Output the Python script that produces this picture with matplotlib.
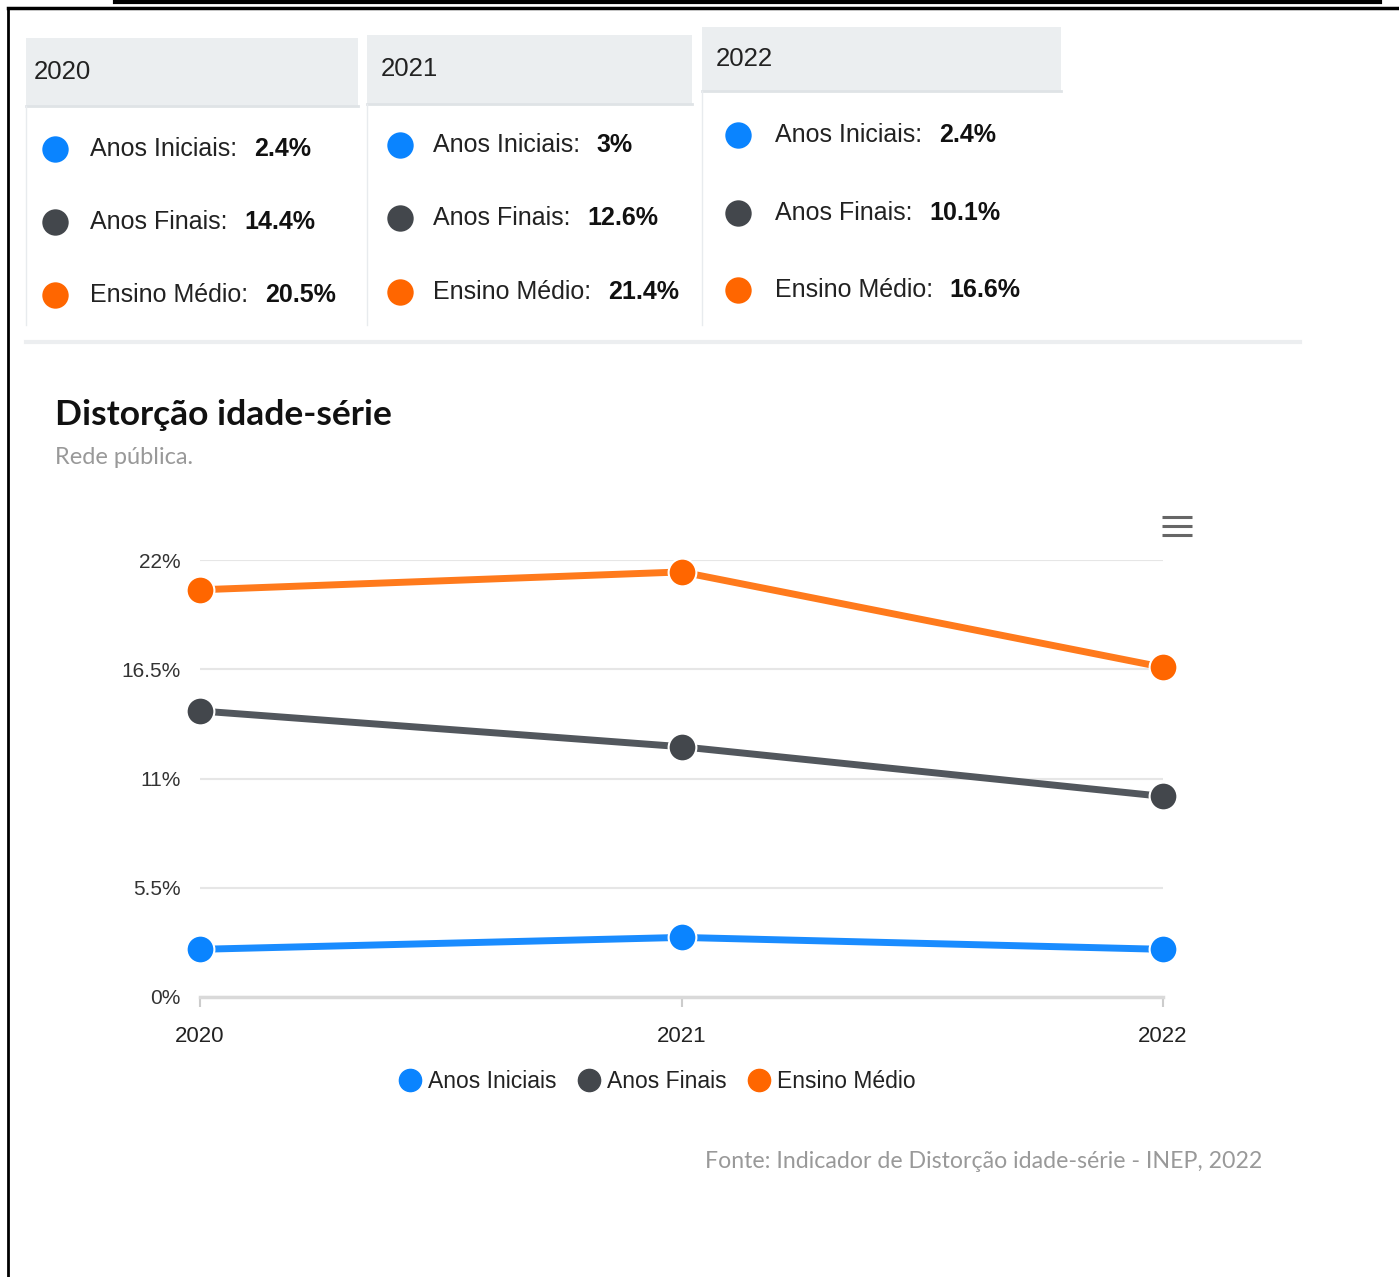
import matplotlib
matplotlib.use("Agg")
import matplotlib.pyplot as plt
from matplotlib.lines import Line2D
from matplotlib.patches import Rectangle

plt.rcParams['font.family'] = ['Liberation Sans', 'DejaVu Sans']

W, H = 1399, 1277

# data
years = [2020, 2021, 2022]
series_names = ["Anos Iniciais", "Anos Finais", "Ensino Médio"]
anos_iniciais = [2.4, 3.0, 2.4]
anos_finais = [14.4, 12.6, 10.1]
ensino_medio = [20.5, 21.4, 16.6]
y_ticks = [0, 5.5, 11, 16.5, 22]
y_tick_labels = ["0%", "5.5%", "11%", "16.5%", "22%"]

title = "Distorção idade-série"
subtitle = "Rede pública."
source = "Fonte: Indicador de Distorção idade-série - INEP, 2022"

line_colors = ["#1a8cff", "#52575d", "#ff7a1c"]
dot_colors = ["#0a84ff", "#43474c", "#ff6600"]

series = [anos_iniciais, anos_finais, ensino_medio]

fig = plt.figure(figsize=(W / 100, H / 100), dpi=100)

# background layer in pixel coords
bg = fig.add_axes([0, 0, 1, 1])
bg.set_xlim(0, W)
bg.set_ylim(H, 0)
bg.axis('off')

# outer frame (scan edges)
bg.plot([8, 8], [8, H], color='black', lw=2)
bg.plot([8, W], [8, 8], color='black', lw=2.5)
bg.plot([115, 1380], [2, 2], color='black', lw=3)

# tooltip boxes: x0, x1, header top, header bottom, body bottom, row y's, dot x, text x
boxes = [
    (26, 358, 38, 106, 325, [149, 222, 295], 55, 90),
    (367, 692, 35, 104, 325, [145, 218, 292], 400, 433),
    (702, 1061, 27, 91, 325, [135, 213, 290], 738, 775),
]
for k, (x0, x1, top, hb, bb, rows, dx, tx) in enumerate(boxes):
    bg.add_patch(Rectangle((x0, top), x1 - x0, hb - top, fc="#ebeef0", ec="none"))
    bg.plot([x0, x1], [hb, hb], color="#dfe3e6", lw=2)
    bg.plot([x0, x0], [hb, bb], color="#e8ebee", lw=1)
    bg.text(x0 + 8 + 6 * (k > 0), (top + hb) / 2, str(years[k]), fontsize=18.5,
            va='center', color='#222')
    for j, yy in enumerate(rows):
        bg.plot(dx, yy, marker='o', ms=19, color=dot_colors[j], mec='none')
        lab = bg.text(tx, yy, f"{series_names[j]}:", fontsize=18, va='center',
                      color='#222')
        bg.annotate(f"{series[j][k]:g}%", xy=(1, 0.5), xycoords=lab,
                    xytext=(12, 0), textcoords='offset points', va='center',
                    ha='left', fontsize=18, fontweight='bold', color='#111')

# card top edge
bg.plot([26, 1300], [342, 342], color="#eceef0", lw=3)

# title
bg.text(55, 415, title, fontsize=25.5, fontweight='bold', family='Lato',
        va='center', color='#111')
bg.text(55, 457, subtitle, fontsize=17, family='Lato', va='center', color='#999')

# menu icon
for yy in (517, 526, 535):
    bg.plot([1162, 1192], [yy, yy], color='#666', lw=2.2, solid_capstyle='butt')

# line chart
ax = fig.add_axes([200 / W, 1 - 997 / H, 963 / W, 437 / H])
ax.patch.set_alpha(0)
for vals, lc, dc, name in zip(series, line_colors, dot_colors, series_names):
    ax.plot(years, vals, color=lc, lw=5, marker='o', ms=20, mfc=dc, mec='white',
            mew=1.5, clip_on=False, label=name, zorder=3)

ax.set_xlim(2020, 2022)
ax.set_ylim(0, 22)
ax.set_yticks(y_ticks, y_tick_labels)
ax.set_xticks(years, [str(y) for y in years])
ax.yaxis.grid(True, color='#e6e6e6', lw=1.5)
ax.set_axisbelow(True)
for s in ('top', 'right', 'left'):
    ax.spines[s].set_visible(False)
ax.spines['bottom'].set_color('#d9d9d9')
ax.spines['bottom'].set_linewidth(2.5)
ax.tick_params(axis='y', length=0, pad=14, labelsize=15, labelcolor='#333')
ax.tick_params(axis='x', length=7, width=1.5, color='#cccccc', pad=14,
               labelsize=16, labelcolor='#222')

handles = [Line2D([], [], ls='none', marker='o', ms=16, color=c) for c in dot_colors]
fig.legend(handles, series_names, loc='center', bbox_to_anchor=(657 / W, 1 - 1082 / H),
           ncol=3, frameon=False, fontsize=16.5, handletextpad=0.3, columnspacing=0.9,
           handlelength=1.0, labelcolor='#222')

# source
bg.text(1262, 1162, source, ha='right', va='center', fontsize=16.7, family='Lato',
        color='#999')

fig.savefig('out.png', dpi=100)
